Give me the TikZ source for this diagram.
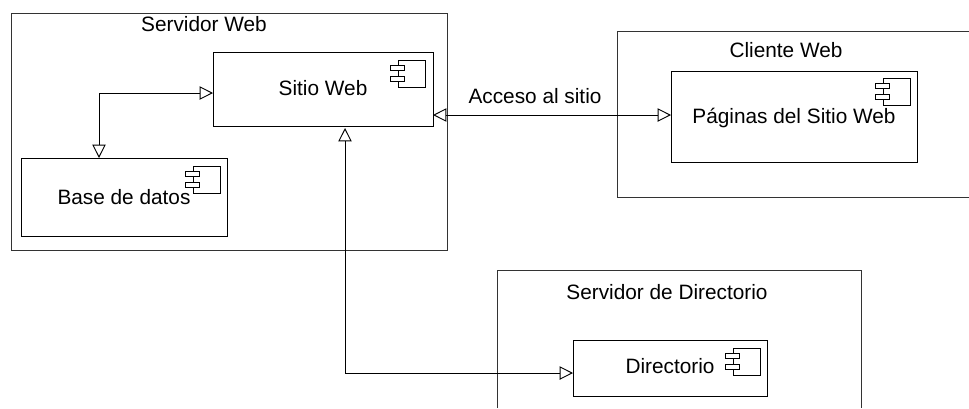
\documentclass[tikz,border=0pt]{standalone}
\usepackage{fontspec}
\setmainfont{Liberation Sans}
\usetikzlibrary{arrows.meta}
\tikzset{>={Triangle[open,length=10pt,width=10pt]}}
\tikzset{every node/.style={font=\fontsize{15.6}{18}\selectfont,text height=11pt,text depth=0pt,inner sep=0pt}}
\tikzset{comp/.style 2 args={draw,rectangle,line width=0.75pt,minimum width=#1*0.75pt,minimum height=#2*0.75pt}}
\tikzset{frame/.style={line width=0.75pt,draw=black!80}}
\tikzset{conn/.style={line width=0.7pt}}
\tikzset{icon/.pic={
  \draw[line width=0.6pt] (0,0) rectangle (27,27);
  \draw[line width=0.6pt,fill=white] (-8,5) rectangle (6,10);
  \draw[line width=0.6pt,fill=white] (-8,16) rectangle (6,21);
}}

\begin{document}
\begin{tikzpicture}[x=0.75pt,y=-0.75pt]
\useasboundingbox (0,0) rectangle (969,408);

\node[comp={436}{237},frame] (servidor) at (229,131.5) {};
\node (servidorT) at (204,24) {Servidor Web};

\node[comp={220}{74},text depth=1pt] (sitio) at (323,89) {Sitio Web};
\node[comp={206}{78}] (base) at (124,197) {Base de datos};

\draw[frame] (969,31) coordinate (cTop) -- (617,31) -- (617,197) -- (969,197) coordinate (cBot);
\node (clienteT) at (786,50) {Cliente Web};
\node[comp={246}{91}] (paginas) at (794,116.5) {P\'aginas del Sitio Web};

\draw[frame] (497,408) coordinate (dLeft) -- (497,270) -- (861,270) -- (861,408) coordinate (dRight);
\node (directorT) at (667,292) {Servidor de Directorio};
\node[comp={194}{56},text depth=2.5pt] (director) at (670,368) {Directorio};

\pic at (398,60) {icon};
\pic at (193,166) {icon};
\pic at (883,78) {icon};
\pic at (733,348) {icon};

% sitio - base
\coordinate (sitioL) at (213,93);
\coordinate (baseT) at (99,158);
\draw[<->,conn] (sitioL) -| (baseT);

% sitio - paginas
\coordinate (sitioR) at (433,115);
\coordinate (paginasL) at (671,115);
\draw[<->,conn] (sitioR) -- (paginasL);
\node (acceso) at (535,96) {Acceso al sitio};

% sitio - directorio
\coordinate (sitioB) at (345,128);
\coordinate (directorL) at (573,373);
\draw[<->,conn] (sitioB) |- (directorL);

\end{tikzpicture}
\end{document}
